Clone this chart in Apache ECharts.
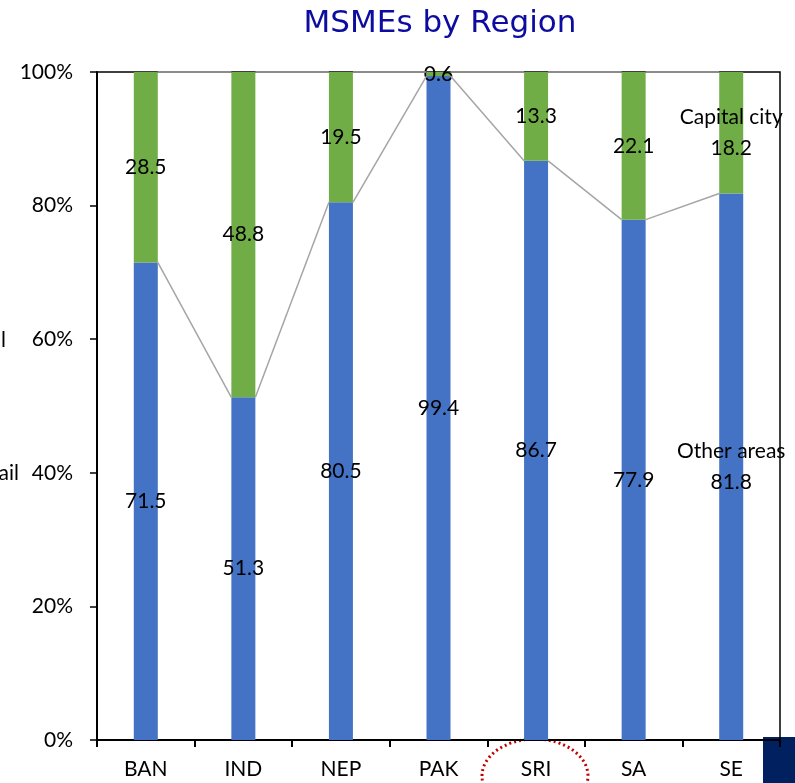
<!DOCTYPE html>
<html>
<head>
<meta charset="utf-8">
<script src="https://cdn.jsdelivr.net/npm/echarts@6/dist/echarts.min.js"></script>
<style>
  html, body { margin: 0; padding: 0; background: #fff; }
  #chart { width: 795px; height: 783px; }
</style>
</head>
<body>
<div id="chart"></div>
<script>
// Share of MSMEs located in the capital city vs. other areas (%)
const regions = ['BAN', 'IND', 'NEP', 'PAK', 'SRI', 'SA', 'SE'];
const otherAreas = [71.5, 51.3, 80.5, 99.4, 86.7, 77.9, 81.8];
const capitalCity = [28.5, 48.8, 19.5, 0.6, 13.3, 22.1, 18.2];
const yTicks = [0, 20, 40, 60, 80, 100];

const BLUE = '#4472C4';
const GREEN = '#70AD47';
const LINE_GRAY = '#A5A5A5';
const FONT = 'Lato';
const BAR_W = 24;

// connector rows: [index, bottom segment top (i), (i+1), stack total (i), (i+1)]
const connectors = [];
for (let i = 0; i < regions.length - 1; i++) {
  connectors.push([
    i,
    otherAreas[i], otherAreas[i + 1],
    Math.min(100, otherAreas[i] + capitalCity[i]),
    Math.min(100, otherAreas[i + 1] + capitalCity[i + 1])
  ]);
}

const chart = echarts.init(document.getElementById('chart'), null, { renderer: 'canvas' });

function segLabel(params) {
  if (params.dataIndex === regions.length - 1) {
    return params.seriesName + '\n' + params.value;
  }
  return String(params.value);
}

const labelStyle = {
  show: true,
  position: 'inside',
  color: '#000',
  fontFamily: FONT,
  fontSize: 21,
  lineHeight: 31,
  formatter: segLabel
};

chart.setOption({
  animation: false,
  title: {
    text: 'MSMEs by Region',
    left: 435,
    textAlign: 'center',
    top: 3,
    textStyle: { fontFamily: 'DejaVu Sans', fontWeight: 'normal', fontSize: 31, color: '#0C0CA0' }
  },
  grid: {
    left: 97, right: 15, top: 72, bottom: 43,
    show: true, borderColor: '#000', borderWidth: 1.5, backgroundColor: 'transparent'
  },
  xAxis: {
    type: 'category',
    data: regions,
    axisLine: { lineStyle: { color: '#000', width: 2 } },
    axisTick: { show: true, length: 7, inside: false, lineStyle: { color: '#000', width: 2 } },
    axisLabel: { color: '#000', fontFamily: FONT, fontSize: 21, margin: 19 }
  },
  yAxis: {
    type: 'value',
    min: yTicks[0],
    max: yTicks[yTicks.length - 1],
    interval: yTicks[1] - yTicks[0],
    splitLine: { show: false },
    axisLine: { show: true, lineStyle: { color: '#000', width: 2 } },
    axisTick: { show: true, length: 7, lineStyle: { color: '#000', width: 1.5 } },
    axisLabel: { color: '#000', fontFamily: FONT, fontSize: 21, margin: 24, formatter: '{value}%' }
  },
  series: [
    {
      name: 'Other areas',
      type: 'bar',
      stack: 'share',
      barWidth: BAR_W,
      itemStyle: { color: BLUE },
      label: labelStyle,
      data: otherAreas,
      z: 2
    },
    {
      name: 'Capital city',
      type: 'bar',
      stack: 'share',
      barWidth: BAR_W,
      itemStyle: { color: GREEN },
      label: labelStyle,
      data: capitalCity,
      z: 2
    },
    {
      // series lines joining the segment tops of neighbouring bars
      name: 'connectors',
      type: 'custom',
      silent: true,
      z: 3,
      clip: false,
      data: connectors,
      encode: { x: 0, y: [1, 2, 3, 4] },
      renderItem: function (params, api) {
        const i = api.value(0);
        const half = BAR_W / 2;
        const a1 = api.coord([i, api.value(1)]);
        const b1 = api.coord([i + 1, api.value(2)]);
        const a2 = api.coord([i, api.value(3)]);
        const b2 = api.coord([i + 1, api.value(4)]);
        const style = { stroke: LINE_GRAY, lineWidth: 1.5, fill: null };
        return {
          type: 'group',
          children: [
            { type: 'line', shape: { x1: a1[0] + half, y1: a1[1], x2: b1[0] - half, y2: b1[1] }, style: style },
            { type: 'line', shape: { x1: a2[0] + half, y1: a2[1], x2: b2[0] - half, y2: b2[1] }, style: style }
          ]
        };
      }
    }
  ],
  graphic: [
    {
      type: 'text',
      x: 6, y: 340,
      style: { text: 'Capital', align: 'right', verticalAlign: 'middle', fontFamily: FONT, fontSize: 21, fill: '#000' }
    },
    {
      type: 'text',
      x: 19, y: 473,
      style: { text: 'Retail', align: 'right', verticalAlign: 'middle', fontFamily: FONT, fontSize: 21, fill: '#000' }
    },
    {
      type: 'rect', z: -10,
      shape: { x: 763, y: 737, width: 32, height: 46 },
      style: { fill: '#002060' }
    },
    {
      type: 'ellipse',
      shape: { cx: 535, cy: 776, rx: 53, ry: 37 },
      style: { fill: null, stroke: '#C00000', lineWidth: 3, lineDash: [2, 3] }
    }
  ]
});
</script>
</body>
</html>
